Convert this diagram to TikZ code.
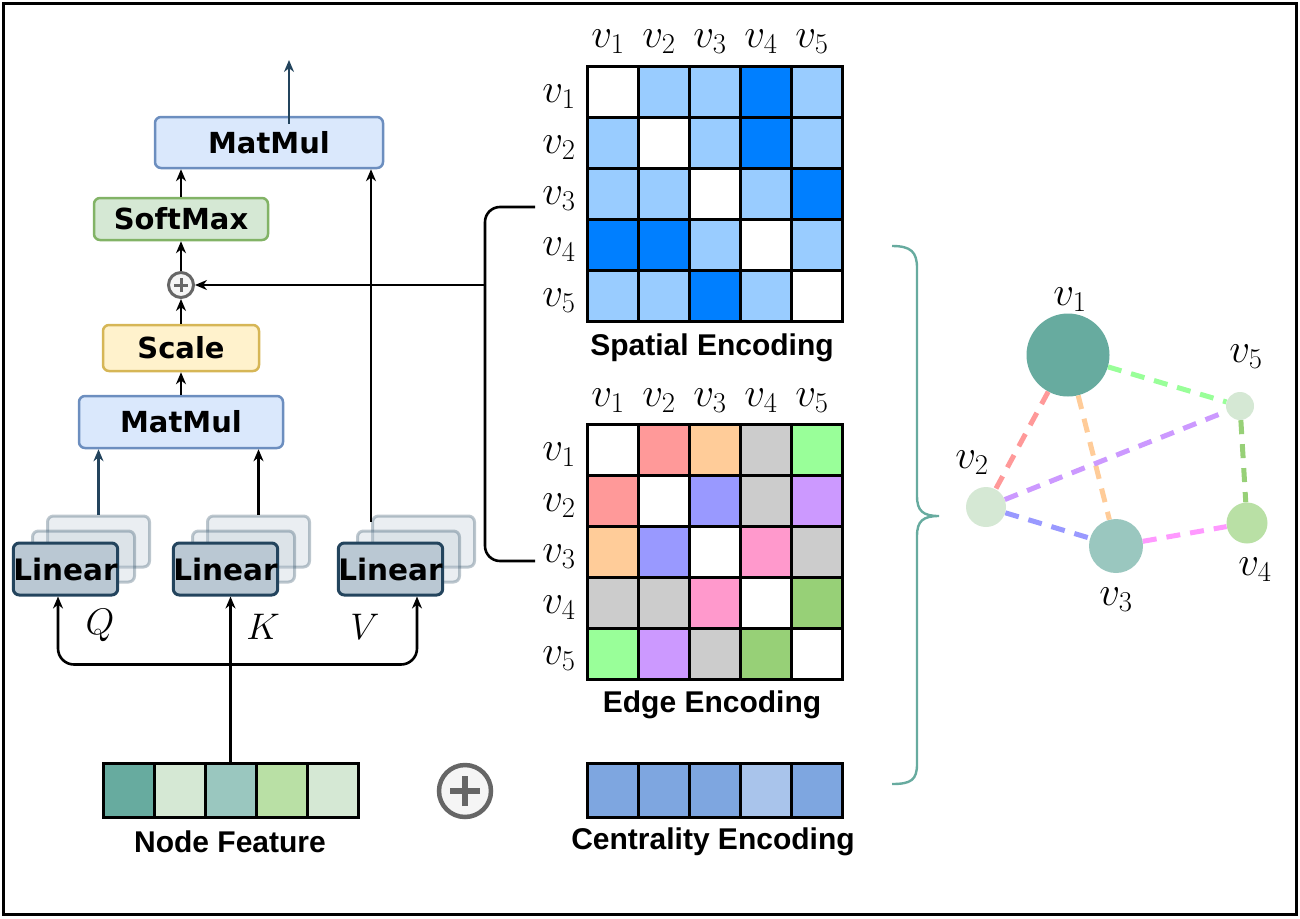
\RequirePackage{fix-cm}
\documentclass[tikz,border=0pt]{standalone}
\usepackage{fontspec}
\newfontfamily\djfont{DejaVu Sans}
\newfontfamily\libfont{Liberation Sans}
\usetikzlibrary{arrows.meta}
\definecolor{mmfill}{HTML}{DAE8FC}\definecolor{mmdraw}{HTML}{6C8EBF}
\definecolor{smfill}{HTML}{D5E8D4}\definecolor{smdraw}{HTML}{82B366}
\definecolor{scfill}{HTML}{FFF2CC}\definecolor{scdraw}{HTML}{D6B656}
\definecolor{linfill}{HTML}{BAC8D3}\definecolor{lindraw}{HTML}{23445D}
\definecolor{sw}{HTML}{FFFFFF}\definecolor{sl}{HTML}{99CCFF}\definecolor{sd}{HTML}{007FFF}
\definecolor{er}{HTML}{FF9999}\definecolor{eo}{HTML}{FFCC99}\definecolor{eg}{HTML}{CCCCCC}
\definecolor{egr}{HTML}{99FF99}\definecolor{eb}{HTML}{9999FF}\definecolor{ep}{HTML}{CC99FF}
\definecolor{epk}{HTML}{FF99CC}\definecolor{edg}{HTML}{97D077}\definecolor{emg}{HTML}{FF99FF}
\definecolor{tealc}{HTML}{67AB9F}\definecolor{nlight}{HTML}{D5E8D4}\definecolor{nmid}{HTML}{9AC7BF}
\definecolor{ngreen}{HTML}{B9E0A5}
\definecolor{cblue}{HTML}{7EA6E0}\definecolor{clight}{HTML}{A9C4EB}
\definecolor{plusfill}{HTML}{F5F5F5}\definecolor{plusdraw}{HTML}{666666}
\tikzset{
  >={Stealth[length=12pt,width=10pt]},
  box/.style={draw, rounded corners=6pt, line width=2.5pt, inner sep=0pt,
    font=\djfont\bfseries\fontsize{29}{30}\selectfont},
  mmbox/.style={box, fill=mmfill, draw=mmdraw},
  smbox/.style={box, fill=smfill, draw=smdraw},
  scbox/.style={box, fill=scfill, draw=scdraw},
  linfront/.style={box, fill=linfill, draw=lindraw, line width=3pt,
    minimum width=103pt, minimum height=52pt, font=\djfont\bfseries\fontsize{29.5}{30}\selectfont},
  linback/.style={box, fill=linfill, draw=lindraw, fill opacity=0.3, draw opacity=0.3,
    line width=3pt, minimum width=102pt, minimum height=51pt},
  arr/.style={->, line width=2.6pt},
  vlab/.style={font=\fontsize{41}{44}\selectfont, inner sep=0pt},
  qlab/.style={font=\fontsize{37}{40}\selectfont, inner sep=0pt},
  capt/.style={font=\libfont\bfseries\fontsize{30}{32}\selectfont, inner sep=0pt},
  cell/.style={draw=black, line width=3pt, minimum width=51pt, minimum height=51pt, inner sep=0pt},
  barcell/.style={draw=black, line width=3pt, minimum width=51pt, minimum height=54pt, inner sep=0pt},
  gedge/.style={line width=5pt, dash pattern=on 14pt off 10pt},
  gnode/.style={circle, inner sep=0pt, draw=none},
}
\begin{document}
\begin{tikzpicture}[x=1pt,y=-1pt]
\useasboundingbox (0,0) rectangle (1300,918);
\draw[line width=3pt] (3.5,3.5) rectangle (1296.5,914.5);

% attention block
\node[mmbox, minimum width=228pt, minimum height=51pt] (mmtop) at (269,142.5) {MatMul};
\node[smbox, minimum width=174pt, minimum height=42pt] (sm) at (181,219) {SoftMax};
\node[circle, draw=plusdraw, fill=plusfill, line width=3pt, minimum size=25pt, inner sep=0pt] (plus) at (181,285) {};
\draw[plusdraw, line width=3pt] ([xshift=-7pt]plus.center) -- ([xshift=7pt]plus.center)
  ([yshift=-7pt]plus.center) -- ([yshift=7pt]plus.center);
\node[scbox, minimum width=156pt, minimum height=46pt] (sc) at (181,348) {Scale};
\node[mmbox, minimum width=204pt, minimum height=52pt] (mm) at (181,422) {MatMul};

\foreach \n/\x in {q/65.5,k/225.5,v/390.5}{
  \node[linback] (\n3) at (\x+33,541.5) {};
  \node[linback] (\n2) at (\x+18,556.5) {};
  \node[linfront] (\n1) at (\x,569) {Linear};
}
\node[qlab] (ql) at (100,625) {$Q$};
\node[qlab] (kl) at (263,627) {$K$};
\node[qlab] (vl) at (365,627) {$V$};

\coordinate (out) at (289,60);
\draw[arr, draw=lindraw] ([xshift=20pt,yshift=-8pt]mmtop.north) -- (out);
\draw[arr] (sm.north) -- (sm.north |- mmtop.south);
\draw[arr] (plus.north) -- (sm.south);
\draw[arr] (sc.north) -- (plus.south);
\draw[arr] (mm.north) -- (sc.south);
\draw[arr, draw=lindraw] (q3.north) -- (q3.north |- mm.south);
\draw[arr] (k3.north) -- (k3.north |- mm.south);
\draw[arr] ([yshift=-7pt]v3.north west) -- (v3.north west |- mmtop.south);

% spatial encoding matrix
\foreach \row [count=\r] in {{sw,sl,sl,sd,sl},{sl,sw,sl,sd,sl},{sl,sl,sw,sl,sd},{sd,sd,sl,sw,sl},{sl,sl,sd,sl,sw}}{
  \foreach \c [count=\k] in \row {
    \node[cell, fill=\c] (s\r\k) at ({612.5+(\k-1)*51},{91.5+(\r-1)*51}) {};
  }
}
\foreach \k in {1,...,5}{
  \node[vlab] (sh\k) at ({608+(\k-1)*51},42) {$v_\k$};
  \node[vlab] (sr\k) at (559,{97+(\k-1)*51}) {$v_\k$};
}
\node[capt] (spcap) at (712,348) {Spatial Encoding};

% edge encoding matrix
\foreach \row [count=\r] in {{sw,er,eo,eg,egr},{er,sw,eb,eg,ep},{eo,eb,sw,epk,eg},{eg,eg,epk,sw,edg},{egr,ep,eg,edg,sw}}{
  \foreach \c [count=\k] in \row {
    \node[cell, fill=\c] (e\r\k) at ({612.5+(\k-1)*51},{449.5+(\r-1)*51}) {};
  }
}
\foreach \k in {1,...,5}{
  \node[vlab] (eh\k) at ({608+(\k-1)*51},401) {$v_\k$};
  \node[vlab] (er\k) at (559,{455+(\k-1)*51}) {$v_\k$};
}
\node[capt] (edcap) at (712,705) {Edge Encoding};

% bracket connector
\coordinate (bt) at (535,207);
\coordinate (bb) at (535,561);
\coordinate (bj) at (485,285);
\draw[line width=2.6pt, rounded corners=15pt] (bt) -- (485,207) -- (485,561) -- (bb);
\draw[arr] (bj) -- (plus.east);

% brace
\draw[tealc, line width=2.4pt] (892,246) .. controls (911,246) and (917,252) .. (917,268)
  -- (917,496) .. controls (917,511) and (923,516) .. (939,516)
  .. controls (923,516) and (917,521) .. (917,536)
  -- (917,764) .. controls (917,780) and (911,784) .. (892,784);

% graph
\node[gnode, fill=tealc, minimum size=83pt] (g1) at (1068,355) {};
\node[gnode, fill=nlight, minimum size=40pt] (g2) at (986,507) {};
\node[gnode, fill=nmid, minimum size=54pt] (g3) at (1116,546) {};
\node[gnode, fill=ngreen, minimum size=41pt] (g4) at (1247,523) {};
\node[gnode, fill=nlight, minimum size=28pt] (g5) at (1240,406) {};
\draw[gedge, er] (g1) -- (g2);
\draw[gedge, eo] (g1) -- (g3);
\draw[gedge, egr] (g1) -- (g5);
\draw[gedge, ep] (g2) -- (g5);
\draw[gedge, eb] (g2) -- (g3);
\draw[gedge, emg] (g3) -- (g4);
\draw[gedge, edg] (g5) -- (g4);
\node[vlab] (gl1) at (1070,300) {$v_1$};
\node[vlab] (gl2) at (972,463) {$v_2$};
\node[vlab] (gl3) at (1116,600) {$v_3$};
\node[vlab] (gl4) at (1255,570) {$v_4$};
\node[vlab] (gl5) at (1246,357) {$v_5$};

% feature bars
\foreach \c [count=\k] in {tealc,nlight,nmid,ngreen,nlight}{
  \node[barcell, fill=\c] (nf\k) at ({128.5+(\k-1)*51},790) {};
}
\foreach \c [count=\k] in {cblue,cblue,cblue,clight,cblue}{
  \node[barcell, fill=\c] (ce\k) at ({612.5+(\k-1)*51},790) {};
}
\node[capt] (nfcap) at (230,842) {Node Feature};
\node[capt] (cecap) at (713,842) {Centrality Encoding};
\node[circle, draw=plusdraw, fill=plusfill, line width=4.5pt, minimum size=52pt, inner sep=0pt] (bigplus) at (465,791) {};
\draw[plusdraw, line width=6pt] ([xshift=-15pt]bigplus.center) -- ([xshift=15pt]bigplus.center)
  ([yshift=-15pt]bigplus.center) -- ([yshift=15pt]bigplus.center);

% inputs
\draw[arr] (nf3.north) -- (nf3.north |- k1.south);
\draw[<->, line width=2.6pt, rounded corners=16pt] ([xshift=-7.5pt]q1.south) -- ++(0,68) -| ([xshift=26.5pt]v1.south);
\end{tikzpicture}
\end{document}
